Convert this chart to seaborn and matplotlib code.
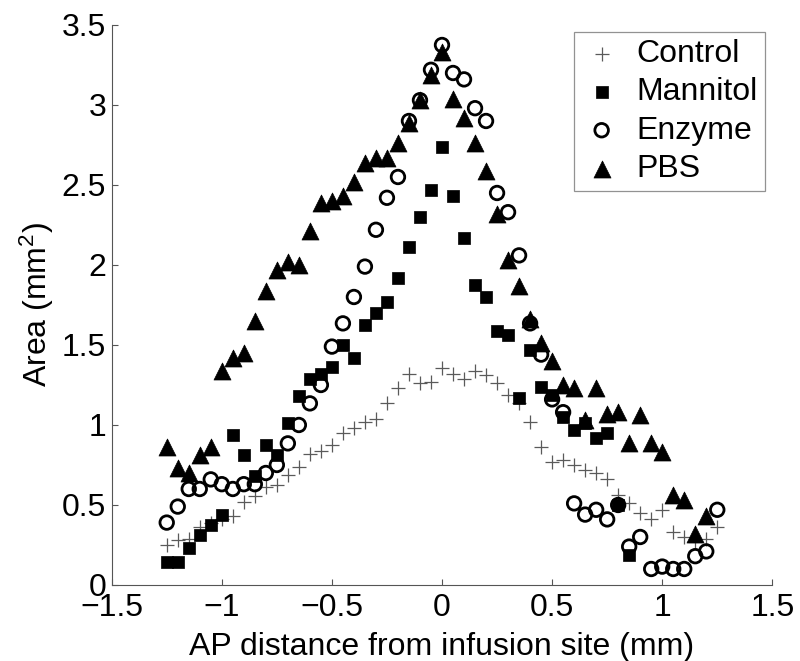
import numpy as np
import pandas as pd
import matplotlib
matplotlib.use("Agg")
import matplotlib.pyplot as plt
import seaborn as sns

# ---- data ----
x_grid = [-1.25, -1.20, -1.15, -1.10, -1.05, -1.00, -0.95, -0.90, -0.85, -0.80,
          -0.75, -0.70, -0.65, -0.60, -0.55, -0.50, -0.45, -0.40, -0.35, -0.30,
          -0.25, -0.20, -0.15, -0.10, -0.05, 0.00, 0.05, 0.10, 0.15, 0.20,
          0.25, 0.30, 0.35, 0.40, 0.45, 0.50, 0.55, 0.60, 0.65, 0.70,
          0.75, 0.80, 0.85, 0.90, 0.95, 1.00, 1.05, 1.10, 1.15, 1.20, 1.25]

control = [0.25, 0.28, 0.29, 0.36, 0.385, 0.41, 0.43, 0.52, 0.556, 0.61,
           0.625, 0.69, 0.74, 0.82, 0.84, 0.875, 0.95, 0.98, 1.02, 1.04,
           1.135, 1.23, 1.32, 1.26, 1.27, 1.355, 1.32, 1.29, 1.34, 1.31,
           1.26, 1.19, 1.135, 1.02, 0.865, 0.77, 0.78, 0.75, 0.72, 0.70,
           0.66, 0.56, 0.51, 0.45, 0.41, 0.47, 0.33, 0.30, 0.27, 0.285, 0.365]

mannitol = [0.146, 0.146, 0.23, 0.31, 0.375, 0.44, 0.94, 0.81, 0.68, 0.875,
            0.81, 1.01, 1.18, 1.29, 1.32, 1.36, 1.50, 1.42, 1.625, 1.70,
            1.77, 1.92, 2.11, 2.30, 2.47, 2.74, 2.43, 2.17, 1.875, 1.80,
            1.59, 1.56, 1.17, 1.47, 1.24, 1.19, 1.05, 0.97, 1.01, 0.92,
            0.95, 0.50, 0.19]

enzyme = [0.39, 0.49, 0.60, 0.60, 0.66, 0.63, 0.60, 0.63, 0.63, 0.70,
          0.75, 0.885, 1.00, 1.135, 1.25, 1.49, 1.635, 1.80, 1.99, 2.22,
          2.42, 2.55, 2.90, 3.03, 3.22, 3.375, 3.20, 3.16, 2.98, 2.90,
          2.45, 2.33, 2.06, 1.635, 1.44, 1.16, 1.08, 0.51, 0.44, 0.47,
          0.41, 0.50, 0.24, 0.30, 0.10, 0.115, 0.10, 0.10, 0.18, 0.21, 0.47]

pbs = [0.86, 0.73, 0.70, 0.81, 0.86, 1.34, 1.42, 1.45, 1.65, 1.84,
       1.97, 2.02, 2.00, 2.21, 2.39, 2.40, 2.43, 2.52, 2.64, 2.67,
       2.67, 2.76, 2.89, 3.03, 3.19, 3.33, 3.04, 2.92, 2.76, 2.59,
       2.32, 2.03, 1.87, 1.66, 1.51, 1.40, 1.25, 1.23, 1.03, 1.23,
       1.07, 1.08, 0.89, 1.06, 0.89, 0.83, 0.56, 0.53, 0.32, 0.43]

series_names = ["Control", "Mannitol", "Enzyme", "PBS"]
x_ticks = [-1.5, -1, -0.5, 0, 0.5, 1, 1.5]
x_ticklabels = ["\u22121.5", "\u22121", "\u22120.5", "0", "0.5", "1", "1.5"]
y_ticks = [0, 0.5, 1, 1.5, 2, 2.5, 3, 3.5]
y_ticklabels = ["0", "0.5", "1", "1.5", "2", "2.5", "3", "3.5"]

# ---- style ----
sns.set_style("white")
plt.rcParams["font.family"] = ["Liberation Sans", "DejaVu Sans"]
plt.rcParams["mathtext.fontset"] = "custom"
plt.rcParams["mathtext.rm"] = "Liberation Sans"
plt.rcParams["mathtext.it"] = "Liberation Sans:italic"
plt.rcParams["mathtext.bf"] = "Liberation Sans:bold"
plt.rcParams["text.color"] = "black"
plt.rcParams["axes.labelcolor"] = "black"
plt.rcParams["xtick.color"] = "black"
plt.rcParams["ytick.color"] = "black"

FS = 23
fig = plt.figure(figsize=(8.0, 6.61), dpi=100)
ax = fig.add_axes([0.1396, 0.115, 0.8258, 0.8472])

df_c = pd.DataFrame({"x": x_grid, "y": control})
df_m = pd.DataFrame({"x": x_grid[:len(mannitol)], "y": mannitol})
df_e = pd.DataFrame({"x": x_grid, "y": enzyme})
df_p = pd.DataFrame({"x": x_grid[:len(pbs)], "y": pbs})

sns.scatterplot(data=df_c, x="x", y="y", ax=ax, marker="+", s=110,
                color="#5a5a5a", linewidth=0.9, label=series_names[0])
sns.scatterplot(data=df_m, x="x", y="y", ax=ax, marker="s", s=80,
                color="black", edgecolor="black", linewidth=0.5,
                label=series_names[1])
sns.scatterplot(data=df_e, x="x", y="y", ax=ax, marker="o", s=95,
                facecolor="none", edgecolor="black", linewidth=2.0,
                label=series_names[2])
sns.scatterplot(data=df_p, x="x", y="y", ax=ax, marker="^", s=150,
                color="black", edgecolor="black", linewidth=0.5,
                label=series_names[3])

ax.set_xlim(-1.5, 1.5)
ax.set_ylim(0, 3.5)
ax.set_xticks(x_ticks)
ax.set_xticklabels(x_ticklabels)
ax.set_yticks(y_ticks)
ax.set_yticklabels(y_ticklabels)
ax.tick_params(direction="in", length=4, width=0.8, color="#555555",
               labelsize=FS, labelcolor="black",
               bottom=True, left=True, top=False, right=False)
ax.tick_params(axis="x", pad=6)
ax.tick_params(axis="y", pad=4)
ax.set_xlabel("AP distance from infusion site (mm)", fontsize=FS, labelpad=6)
ax.set_ylabel(r"Area (mm$^{2}$)", fontsize=FS, labelpad=4)

for side in ["top", "right"]:
    ax.spines[side].set_visible(False)
for side in ["left", "bottom"]:
    ax.spines[side].set_color("#555555")
    ax.spines[side].set_linewidth(0.8)

leg = ax.legend(loc="upper right", bbox_to_anchor=(0.989, 0.9875),
                fontsize=FS, frameon=True, fancybox=False,
                handlelength=1.3, handletextpad=0.45, borderpad=0.22,
                labelspacing=0.26, borderaxespad=0)
leg.get_frame().set_edgecolor("#777777")
leg.get_frame().set_linewidth(0.9)

fig.savefig("out.png", dpi=100)
